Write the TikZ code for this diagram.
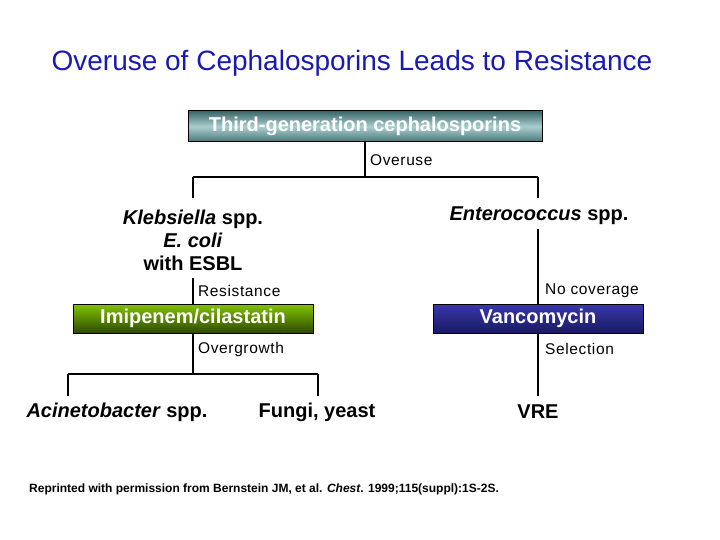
\documentclass[tikz,border=0pt]{standalone}
\usepackage{fontspec}
\setmainfont{Liberation Sans}
\newfontfamily\lblfont[LetterSpace=4]{Liberation Sans}
\usepackage{tikz}
\usetikzlibrary{positioning}
\definecolor{titleblue}{RGB}{26,26,178}
\definecolor{tealtop}{RGB}{58,102,104}
\definecolor{tealmid}{RGB}{170,206,206}
\definecolor{tealbot}{RGB}{72,118,120}
\definecolor{greentop}{RGB}{130,196,0}
\definecolor{greenbot}{RGB}{46,72,0}
\definecolor{bluetop}{RGB}{56,56,170}
\definecolor{bluebot}{RGB}{26,26,100}
\tikzstyle{drug}=[draw=black, line width=1pt, text=white, inner sep=0pt, font=\bfseries\fontsize{20}{24}\selectfont]
\tikzstyle{org}=[inner sep=0pt, align=center, font=\bfseries\fontsize{20}{23}\selectfont]
\tikzstyle{lbl}=[inner sep=0pt, anchor=west, font=\lblfont\fontsize{15.5}{18}\selectfont]
\tikzstyle{link}=[line width=1.6pt]
\tikzset{>=stealth}

\begin{document}
\begin{tikzpicture}[x=1pt, y=-1pt]
\useasboundingbox (0,0) rectangle (720,540);

\node[text=titleblue, font=\fontsize{28}{32}\selectfont] (title) at (352,63) {Overuse of Cephalosporins Leads to Resistance};

\node[drug, minimum width=354pt, minimum height=31pt, top color=tealtop, bottom color=tealbot, middle color=tealmid] (third) at (365,126.5) {Third-generation cephalosporins};
\node[drug, minimum width=240pt, minimum height=29pt, top color=greentop, bottom color=greenbot] (imi) at (193,318.5) {Imipenem/cilastatin};
\node[drug, minimum width=210pt, minimum height=29pt, top color=bluetop, bottom color=bluebot] (vanc) at (538,318.5) {Vancomycin};

\node[org] (klebs) at (193,240) {\textit{Klebsiella} spp.\\ \textit{E. coli}\\ with ESBL};
\node[org] (entero) at (539,216) {\textit{Enterococcus} spp.};
\node[org] (acineto) at (117,412) {\textit{Acinetobacter} spp.};
\node[org] (fungi) at (317,412) {Fungi, yeast};
\node[org] (vre) at (538,412) {VRE};

\node[lbl] (overuse) at (370,160) {Overuse};
\node[lbl] (resist) at (198,291) {Resistance};
\node[lbl] (nocov) at (545,291) {No coverage};
\node[lbl] (overgr) at (198,349) {Overgrowth};
\node[lbl] (select) at (545,349) {Selection};

\coordinate (j1) at (365,177);
\coordinate (j1l) at (193,177);
\coordinate (j1r) at (538,177);
\coordinate (klt) at (193,198);
\coordinate (ent) at (538,198);
\coordinate (klb) at (193,278);
\coordinate (entb) at (538,229);
\coordinate (j2) at (193,374);
\coordinate (j2l) at (68,374);
\coordinate (j2r) at (318,374);
\coordinate (acit) at (68,396);
\coordinate (fungt) at (318,396);
\coordinate (vret) at (538,396);

\draw[link] (third.south) -- (j1);
\draw[link] (j1l) -- (j1r);
\draw[link] (j1l) -- (klt);
\draw[link] (j1r) -- (ent);
\draw[link] (klb) -- (imi.north);
\draw[link] (entb) -- (vanc.north);
\draw[link] (imi.south) -- (j2);
\draw[link] (j2l) -- (j2r);
\draw[link] (j2l) -- (acit);
\draw[link] (j2r) -- (fungt);
\draw[link] (vanc.south) -- (vret);

\node[inner sep=0pt, anchor=west, font=\bfseries\fontsize{12}{14}\selectfont] (credit) at (29,489) {Reprinted with permission from Bernstein JM, et al. \textit{Chest}. 1999;115(suppl):1S-2S.};
\end{tikzpicture}
\end{document}
